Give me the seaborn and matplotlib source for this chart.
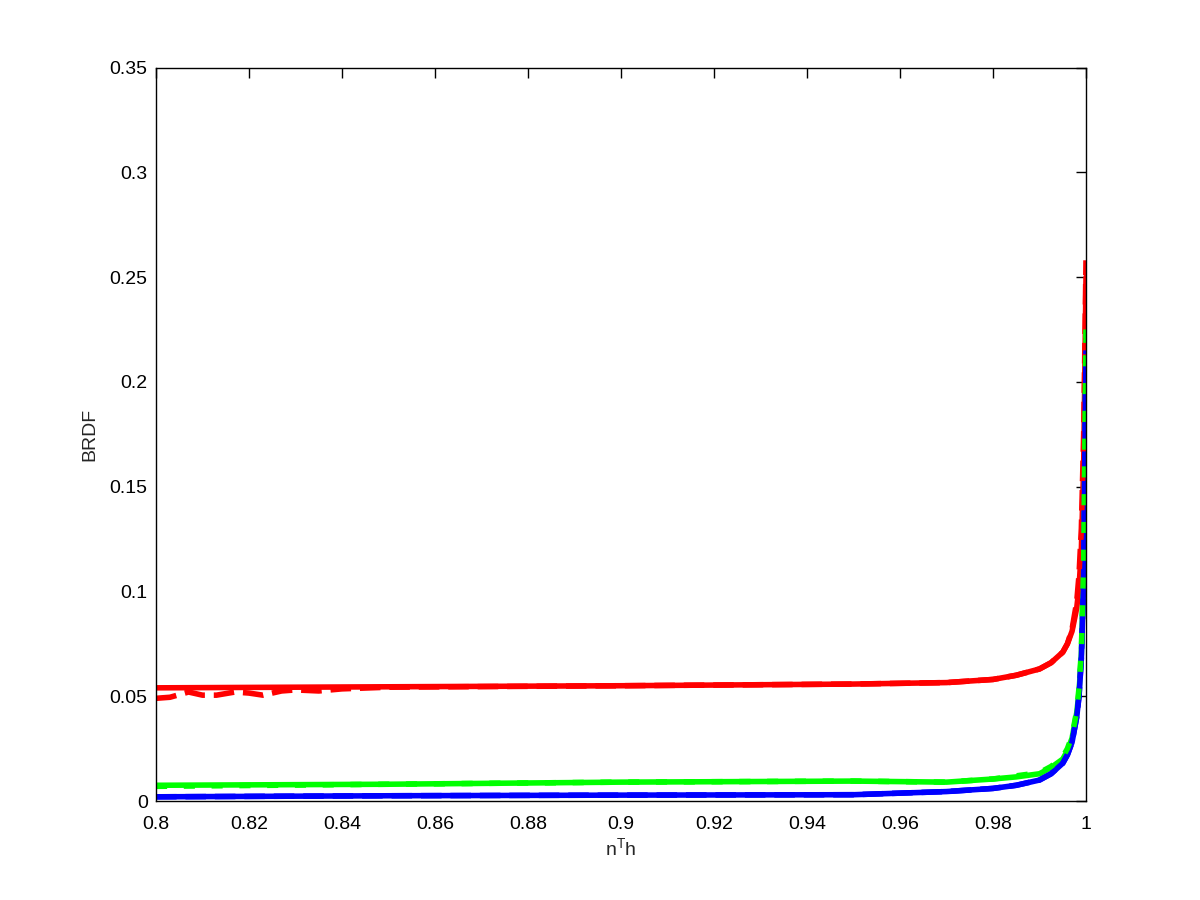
import numpy as np
import pandas as pd
import matplotlib
matplotlib.use("Agg")
import matplotlib.pyplot as plt
import matplotlib.ticker as mticker
import seaborn as sns

# values
x_pts = [0.8, 0.85, 0.9, 0.95, 0.97, 0.98, 0.985, 0.99, 0.9925, 0.995, 0.996, 0.997,
         0.998, 0.9985, 0.999, 0.9995, 1.0]
red_solid = [0.054, 0.0545, 0.055, 0.0558, 0.0565, 0.058, 0.06, 0.063, 0.066, 0.071, 0.075, 0.081,
             0.092, 0.102, 0.12, 0.16, 0.25]
green_solid = [0.0075, 0.008, 0.009, 0.0095, 0.009, 0.0105, 0.0115, 0.013, 0.016, 0.02, 0.024, 0.03,
               0.042, 0.052, 0.07, 0.11, 0.22]
blue_solid = [0.002, 0.0025, 0.0028, 0.003, 0.0045, 0.006, 0.0075, 0.01, 0.013, 0.018, 0.022, 0.028,
              0.04, 0.05, 0.068, 0.105, 0.215]

# dashed red is noisy at the start
red_dash_x = [0.8, 0.803, 0.807, 0.81, 0.813, 0.817, 0.82, 0.823, 0.827, 0.83, 0.835, 0.84, 0.85, 0.9,
              0.95, 0.97, 0.98, 0.985, 0.99, 0.9925, 0.995, 0.996, 0.997, 0.998, 0.9985, 0.999,
              0.9995, 1.0]
red_dash = [0.049, 0.0495, 0.052, 0.0505, 0.0505, 0.052, 0.0515, 0.0505, 0.0525, 0.053, 0.0525, 0.0535,
            0.0543, 0.055, 0.0558, 0.0565, 0.058, 0.06, 0.063, 0.066, 0.071, 0.075, 0.082,
            0.095, 0.108, 0.13, 0.175, 0.258]
green_dash = [0.007, 0.008, 0.009, 0.0095, 0.009, 0.0105, 0.012, 0.0135, 0.0165, 0.021, 0.025, 0.031,
              0.043, 0.054, 0.072, 0.113, 0.225]
blue_dash = [0.002, 0.0025, 0.0028, 0.003, 0.0045, 0.006, 0.0075, 0.01, 0.013, 0.018, 0.022, 0.028,
             0.04, 0.05, 0.068, 0.105, 0.215]

sns.set_style("white")
plt.rcParams["font.family"] = ["Liberation Sans", "DejaVu Sans"]
plt.rcParams["mathtext.fontset"] = "custom"
plt.rcParams["mathtext.rm"] = "Liberation Sans"

fig = plt.figure(figsize=(12, 9), dpi=100)
ax = fig.add_axes([0.13, 0.11, 0.775, 0.815])

lw = 4
sns.lineplot(x=x_pts, y=red_solid, color="#ff0000", lw=lw, ax=ax, sort=False)
sns.lineplot(x=x_pts, y=green_solid, color="#00ff00", lw=lw, ax=ax, sort=False)
sns.lineplot(x=x_pts, y=blue_solid, color="#0000ff", lw=lw, ax=ax, sort=False)
sns.lineplot(x=red_dash_x, y=red_dash, color="#ff0000", lw=lw, ls="--", ax=ax, sort=False)
sns.lineplot(x=x_pts, y=blue_dash, color="#0000ff", lw=lw, ls="--", ax=ax, sort=False)
sns.lineplot(x=x_pts, y=green_dash, color="#00ff00", lw=lw, ls=(0, (2, 3)), ax=ax, sort=False)

ax.set_xlim(0.8, 1.0)
ax.set_ylim(0, 0.35)
ax.set_xticks(np.arange(0.8, 1.0001, 0.02))
ax.set_yticks(np.arange(0, 0.3501, 0.05))
ax.xaxis.set_major_formatter(mticker.FuncFormatter(lambda v, p: "%g" % round(v, 4)))
ax.yaxis.set_major_formatter(mticker.FuncFormatter(lambda v, p: "%g" % round(v, 4)))
ax.tick_params(direction="in", length=7, width=1, top=True, right=True, labelsize=14,
               colors="black")
ax.tick_params(axis="x", pad=11)
ax.tick_params(axis="y", pad=6)
for s in ax.spines.values():
    s.set_visible(True)
    s.set_color("black")
    s.set_linewidth(1)

ax.set_xlabel(r"n$^{\mathrm{T}}$h", fontsize=14, labelpad=3)
ax.set_ylabel("BRDF", fontsize=14, labelpad=8)

fig.savefig("out.png", dpi=100, facecolor="white")
